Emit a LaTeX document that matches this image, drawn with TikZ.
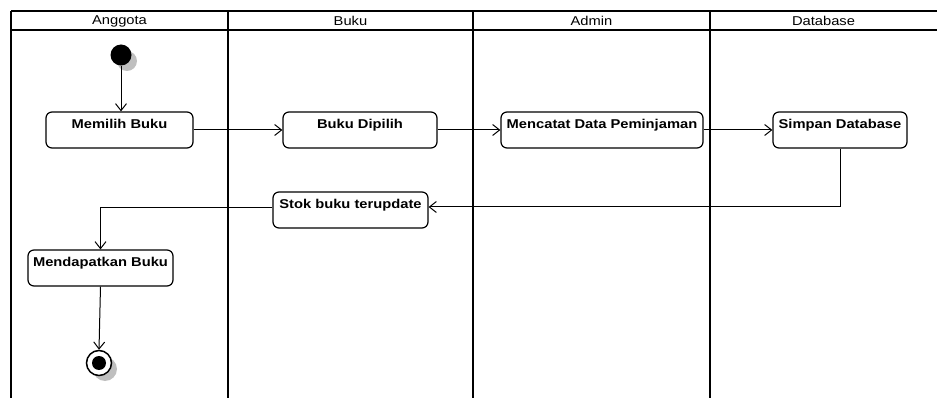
\documentclass[tikz,border=0pt]{standalone}
\usepackage{fontspec}
\usetikzlibrary{arrows.meta}
\newfontfamily\dfont[FakeStretch=1.15]{Liberation Sans}
\begin{document}
\begin{tikzpicture}[x=1pt,y=-1pt,
  lane/.style={line width=2.3pt},
  hdr/.style={font=\dfont\fontsize{12.8}{14}\selectfont, inner sep=0pt},
  act/.style={draw, line width=1.2pt, rounded corners=6pt, minimum height=36pt,
              inner ysep=2pt, inner xsep=2pt, text height=14.5pt, text depth=17.5pt,
              font=\dfont\bfseries\fontsize{12.8}{14}\selectfont},
  arr/.style={line width=1pt, -{Straight Barb[length=7pt,width=11pt,line width=1pt]}},
  shadowc/.style={fill=black!25, draw=none}
]
\useasboundingbox (0,0) rectangle (937,398);
% swimlane frame
\draw[line width=1.6pt] (11,11) -- (937,11);
\draw[line width=1.6pt] (11,30) -- (937,30);
\draw[lane] (11,11) -- (11,398);
\draw[lane] (228,11) -- (228,398);
\draw[lane] (473,11) -- (473,398);
\draw[line width=1.7pt] (710,11) -- (710,398);
% headers
\node[hdr] (hA) at (119.5,21) {Anggota};
\node[hdr] (hB) at (350.5,21) {Buku};
\node[hdr] (hC) at (591.5,21) {Admin};
\node[hdr] (hD) at (823.5,21) {Database};
% initial node
\fill[black!25] (127,61) circle (10pt);
\node[circle, fill=black, minimum size=21pt, inner sep=0pt] (init) at (121,55) {};
% activities
\node[act, minimum width=147pt] (memilih) at (119.5,130) {Memilih Buku};
\node[act, minimum width=154pt] (dipilih) at (360,130) {Buku Dipilih};
\node[act, minimum width=202pt] (mencatat) at (602,130) {Mencatat Data Peminjaman};
\node[act, minimum width=134pt] (simpan) at (840,130) {Simpan Database};
\node[act, minimum width=155pt] (stok) at (350.5,210) {Stok buku terupdate};
\node[act, minimum width=145pt] (dapat) at (100.5,268) {Mendapatkan Buku};
% final node
\fill[black!25] (105,369) circle (12pt);
\node[circle, draw, line width=1.5pt, fill=white, minimum size=25pt, inner sep=0pt] (final) at (99,363) {};
\node[circle, fill=black, minimum size=14pt, inner sep=0pt] (finalin) at (99,363) {};
% connectors
\draw[arr] (init.south) -- (init.south |- memilih.north);
\draw[arr] (memilih) -- (dipilih);
\draw[arr] (dipilih) -- (mencatat);
\draw[arr] (mencatat) -- (simpan);
\draw[arr] (simpan.south) |- ([yshift=3pt]stok.east);
\draw[arr] ([yshift=2pt]stok.west) -| (dapat.north);
\draw[arr] (dapat.south) -- (final.north);
\end{tikzpicture}
\end{document}
